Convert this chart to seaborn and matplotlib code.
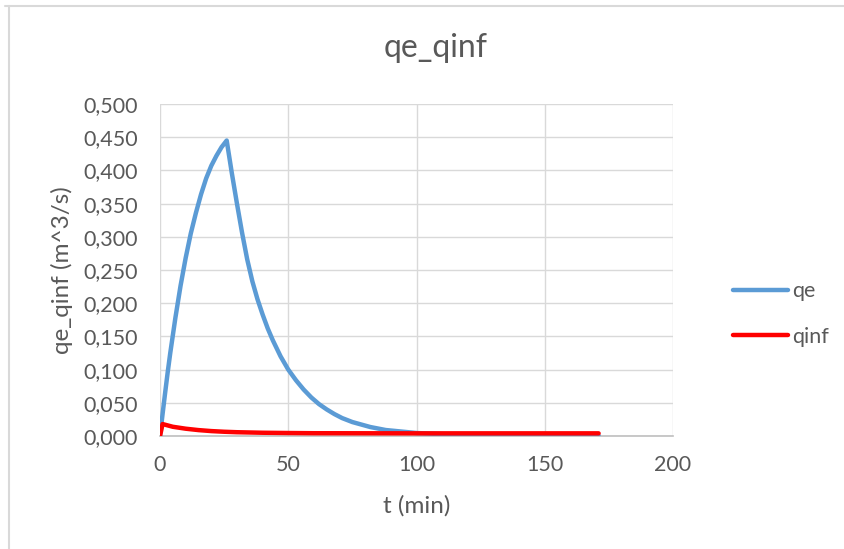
import matplotlib
matplotlib.use("Agg")
import matplotlib.pyplot as plt
from matplotlib.ticker import FuncFormatter, MultipleLocator
from matplotlib.lines import Line2D
import seaborn as sns
import pandas as pd

# Time (min) and discharge (m^3/s) for both series
t_qe = [0, 1, 2, 3, 4, 6, 8, 10, 12, 14, 16, 18, 20, 22, 24, 26,
        28, 30, 32, 34, 36, 38, 40, 42, 44, 47, 50, 53, 56, 59, 62, 65, 68,
        71, 75, 82, 88, 100, 110, 120, 130, 140, 150, 160, 171]
qe = [0.000, 0.033, 0.065, 0.096, 0.125, 0.178, 0.226, 0.268, 0.305, 0.336,
      0.364, 0.388, 0.407, 0.422, 0.435, 0.445,
      0.396, 0.350, 0.306, 0.266, 0.233, 0.206, 0.183, 0.162, 0.144, 0.120,
      0.100, 0.084, 0.070, 0.058, 0.048, 0.040, 0.033, 0.027, 0.021, 0.0135,
      0.0090, 0.0045, 0.0028, 0.0017, 0.0011, 0.0008, 0.0006, 0.0005, 0.0005]

t_qinf = [0, 1, 5, 10, 15, 20, 25, 30, 40, 50, 60, 80, 100, 120, 140, 160, 171]
qinf = [0.000, 0.018, 0.0139, 0.0110, 0.0089, 0.0074, 0.0064, 0.0057, 0.0049,
        0.0045, 0.0042, 0.0041, 0.0040, 0.0040, 0.0040, 0.0040, 0.0040]

series_names = ["qe", "qinf"]
series_colors = ["#5B9BD5", "#FF0000"]

title = "qe_qinf"
x_label = "t (min)"
y_label = "qe_qinf (m^3/s)"
x_ticks = [0, 50, 100, 150, 200]

df = pd.concat([
    pd.DataFrame({"t": t_qe, "q": qe, "serie": "qe"}),
    pd.DataFrame({"t": t_qinf, "q": qinf, "serie": "qinf"}),
], ignore_index=True)

sns.set_theme(style="white")
plt.rcParams["font.family"] = ["Lato", "DejaVu Sans"]
text_color = "#595959"
grid_color = "#d9d9d9"

fig = plt.figure(figsize=(8.44, 5.49), dpi=100)
ax = fig.add_axes([160 / 844, 1 - 436 / 549, (673 - 160) / 844, (436 - 104) / 549])

sns.lineplot(data=df, x="t", y="q", hue="serie", hue_order=series_names,
             palette=series_colors, linewidth=3.2, ax=ax, legend=False,
             estimator=None, sort=False)
for ln in ax.lines:
    ln.set_solid_capstyle("round")
    ln.set_solid_joinstyle("round")

ax.set_xlim(0, 200)
ax.set_ylim(0, 0.5)
ax.set_xticks(x_ticks)
ax.yaxis.set_major_locator(MultipleLocator(0.05))
ax.yaxis.set_major_formatter(FuncFormatter(lambda v, p: f"{v:.3f}".replace(".", ",")))
ax.xaxis.set_major_formatter(FuncFormatter(lambda v, p: f"{v:.0f}"))

ax.grid(True, color=grid_color, linewidth=1.0)
ax.set_axisbelow(True)
for side in ["top", "right", "left"]:
    ax.spines[side].set_visible(False)
ax.spines["bottom"].set_color("#bfbfbf")
ax.spines["bottom"].set_linewidth(1.2)
ax.spines["bottom"].set_zorder(1)

ax.tick_params(axis="both", length=0, labelsize=15.5, labelcolor=text_color)
ax.tick_params(axis="y", pad=16)
ax.tick_params(axis="x", pad=14)

ax.set_xlabel(x_label, fontsize=17.5, color=text_color, labelpad=14)
ax.set_ylabel(y_label, fontsize=17.5, color=text_color)
ax.yaxis.set_label_coords((73 - 160) / 513, 0.5)
fig.text(436 / 844, 1 - 48 / 549, title, ha="center", va="center",
         fontsize=23, color=text_color)

handles = [Line2D([], [], color=c, linewidth=3.2, solid_capstyle="round")
           for c in series_colors]
fig.legend(handles, series_names, loc="center left",
           bbox_to_anchor=(714 / 844, 1 - 314 / 549), frameon=False,
           fontsize=15.5, labelcolor=text_color, handlelength=2.55,
           handletextpad=0.2, labelspacing=1.2)

# outer chart border
fig.add_artist(Line2D([5 / 844, 1], [1 - 5.5 / 549] * 2, color=grid_color,
                      linewidth=1.5, transform=fig.transFigure))
fig.add_artist(Line2D([8.5 / 844] * 2, [0, 1 - 5.5 / 549], color=grid_color,
                      linewidth=1.5, transform=fig.transFigure))

fig.savefig("out.png", dpi=100, facecolor="white")
